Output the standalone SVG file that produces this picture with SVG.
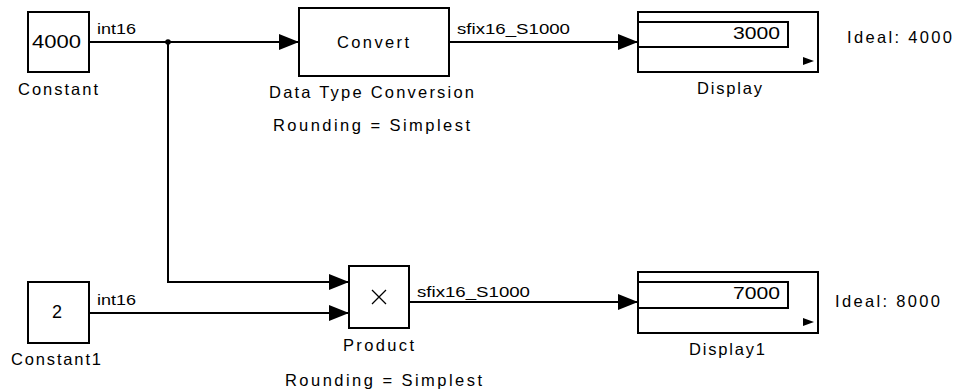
<svg xmlns="http://www.w3.org/2000/svg" width="968" height="391" viewBox="0 0 968 391">
<style>
  .blk{fill:#fff;stroke:#000;stroke-width:2}
  .ln{fill:none;stroke:#000;stroke-width:2}
  .t{font-family:"Liberation Sans",Arial,sans-serif;font-size:15px;fill:#000}
  .lb{font-size:16.5px}
  .big{font-size:18px}
</style>
<defs>
  <marker id="arr" viewBox="0 0 20 16" refX="19" refY="8" markerWidth="20" markerHeight="16" markerUnits="userSpaceOnUse" orient="auto">
    <path d="M0,0 L20,8 L0,16 z" fill="#000"/>
  </marker>
</defs>
<rect width="968" height="391" fill="#fff"/>
<g id="connectors">
  <path class="ln" d="M89,42 H298" marker-end="url(#arr)"/>
  <path class="ln" d="M168,42 V282 H348" marker-end="url(#arr)"/>
  <path class="ln" d="M89,313 H348" marker-end="url(#arr)"/>
  <path class="ln" d="M449,42 H637" marker-end="url(#arr)"/>
  <path class="ln" d="M409,302 H637" marker-end="url(#arr)"/>
  <circle cx="168" cy="42" r="2.8" fill="#000"/>
  <text class="t" x="97" y="34" textLength="39" lengthAdjust="spacingAndGlyphs">int16</text>
  <text class="t" x="97" y="305" textLength="39" lengthAdjust="spacingAndGlyphs">int16</text>
  <text class="t" x="457" y="34" textLength="113" lengthAdjust="spacingAndGlyphs">sfix16_S1000</text>
  <text class="t" x="417" y="297" textLength="113" lengthAdjust="spacingAndGlyphs">sfix16_S1000</text>
</g>
<g id="constant">
  <rect class="blk" x="28" y="12" width="61" height="60"/>
  <text class="t big" x="32" y="48" textLength="49" lengthAdjust="spacingAndGlyphs">4000</text>
  <text class="t lb" x="18" y="95" textLength="80" lengthAdjust="spacing">Constant</text>
</g>
<g id="convert">
  <rect class="blk" x="299" y="8" width="150" height="68"/>
  <text class="t lb" x="337" y="48" textLength="72" lengthAdjust="spacing">Convert</text>
  <text class="t lb" x="269" y="98" textLength="205" lengthAdjust="spacing">Data Type Conversion</text>
  <text class="t lb" x="273" y="131" textLength="197" lengthAdjust="spacing">Rounding = Simplest</text>
</g>
<g id="display">
  <rect class="blk" x="638" y="12" width="180" height="60"/>
  <rect class="blk" x="638" y="22" width="150" height="25"/>
  <text class="t lb" x="733" y="39" textLength="47" lengthAdjust="spacingAndGlyphs">3000</text>
  <polygon points="803,57 814,61 803,65" fill="#000"/>
  <text class="t lb" x="697" y="94" textLength="65" lengthAdjust="spacing">Display</text>
</g>
<text class="t lb" x="847" y="43" textLength="105" lengthAdjust="spacing">Ideal: 4000</text>
<g id="constant1">
  <rect class="blk" x="28" y="282" width="61" height="61"/>
  <text class="t big" x="57" y="318" text-anchor="middle">2</text>
  <text class="t lb" x="11" y="365" textLength="90" lengthAdjust="spacing">Constant1</text>
</g>
<g id="product">
  <rect class="blk" x="349" y="266" width="60" height="62"/>
  <path d="M372,290 L386,304 M386,290 L372,304" stroke="#000" stroke-width="1.3" fill="none"/>
  <text class="t lb" x="343" y="351" textLength="71" lengthAdjust="spacing">Product</text>
  <text class="t lb" x="285" y="386" textLength="197" lengthAdjust="spacing">Rounding = Simplest</text>
</g>
<g id="display1">
  <rect class="blk" x="638" y="272" width="180" height="61"/>
  <rect class="blk" x="638" y="282" width="150" height="26"/>
  <text class="t lb" x="733" y="299" textLength="47" lengthAdjust="spacingAndGlyphs">7000</text>
  <polygon points="803,318 814,322 803,326" fill="#000"/>
  <text class="t lb" x="689" y="355" textLength="76" lengthAdjust="spacing">Display1</text>
</g>
<text class="t lb" x="835" y="307" textLength="105" lengthAdjust="spacing">Ideal: 8000</text>
</svg>
